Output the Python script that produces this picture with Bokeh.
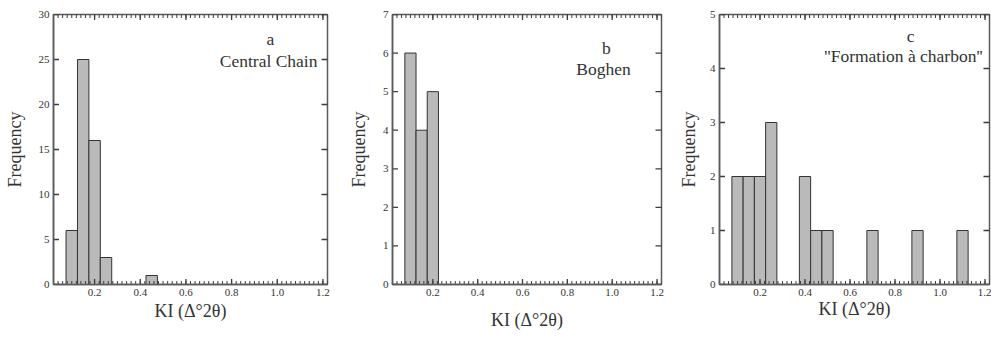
from bokeh.plotting import figure
from bokeh.layouts import row
from bokeh.models import Range1d, FixedTicker, LinearAxis, Label
from bokeh.embed import file_html
from bokeh.resources import INLINE
import numpy as np

# ---- data ----
bin_width = 0.05
a_centers = [0.10, 0.15, 0.20, 0.25, 0.45]
a_counts = [6, 25, 16, 3, 1]
b_centers = [0.10, 0.15, 0.20]
b_counts = [6, 4, 5]
c_centers = [0.10, 0.15, 0.20, 0.25, 0.40, 0.45, 0.50, 0.70, 0.90, 1.10]
c_counts = [2, 2, 2, 3, 2, 1, 1, 1, 1, 1]

x_ticks = [0.2, 0.4, 0.6, 0.8, 1.0, 1.2]
x_tick_labels = ["0.2", "0.4", "0.6", "0.8", "1.0", "1.2"]
a_yticks = [0, 5, 10, 15, 20, 25, 30]
b_yticks = [0, 1, 2, 3, 4, 5, 6, 7]
c_yticks = [0, 1, 2, 3, 4, 5]

panel_letters = ["a", "b", "c"]
panel_names = ["Central Chain", "Boghen", "''Formation à charbon''"]
x_label = "KI (Δ°2θ)"
y_label = "Frequency"

SERIF = "Liberation Serif"
TXT = "#333333"
AX = "#5a5a5a"
TICK = "#3c3c3c"
X0, X1 = 0.02, 1.22
minor = [round(v, 3) for v in np.arange(0.02, 1.2201, 0.02)]


def base_axis(ax):
    ax.axis_line_color = AX
    ax.axis_line_width = 1.5
    ax.major_tick_in = 0
    ax.major_tick_out = 0
    ax.minor_tick_in = 0
    ax.minor_tick_out = 0
    ax.major_tick_line_color = None
    ax.minor_tick_line_color = None
    ax.major_label_text_font = SERIF
    ax.major_label_text_color = TXT
    ax.major_label_text_font_size = "11px"
    ax.major_label_standoff = 4
    ax.axis_label_text_font = SERIF
    ax.axis_label_text_font_size = "18px"
    ax.axis_label_text_font_style = "normal"
    ax.axis_label_text_color = TXT


def inward_ticks(p, ymax, yticks):
    # tick marks drawn at the frame edges (straddling, half visible inside)
    vert = np.pi / 2
    for ypos in (0, ymax):
        p.scatter(x=x_ticks, y=[ypos] * len(x_ticks), marker="dash", angle=vert,
                  size=11, line_color=TICK, line_width=1.3)
        p.scatter(x=minor, y=[ypos] * len(minor), marker="dash", angle=vert,
                  size=7, line_color=TICK, line_width=1)
    p.scatter(x=[X0] * len(yticks), y=yticks, marker="dash",
              size=11, line_color=TICK, line_width=1.3)
    p.scatter(x=[X1] * len(yticks), y=yticks, marker="dash",
              size=12, line_color=TICK, line_width=1.3)


def make_panel(centers, counts, ymax, yticks, letter, name,
               width, bl, br, bt, fh,
               lx, ly, nx, ny, ylab_standoff, xlab_standoff):
    height = 338
    p = figure(width=width, height=height, output_backend="svg",
               toolbar_location=None,
               x_range=Range1d(X0, X1), y_range=Range1d(0, ymax),
               min_border_left=bl, min_border_right=br,
               min_border_top=bt, min_border_bottom=height - bt - fh,
               x_axis_label=x_label, y_axis_label=y_label)
    p.grid.visible = False
    p.outline_line_color = AX
    p.outline_line_width = 1.5
    p.background_fill_color = None
    p.border_fill_color = "white"

    p.vbar(x=centers, top=counts, bottom=0, width=bin_width,
           fill_color="#bababa", line_color="#333333", line_width=1)
    inward_ticks(p, ymax, yticks)

    xa = p.xaxis[0]
    base_axis(xa)
    xa.ticker = FixedTicker(ticks=x_ticks, minor_ticks=minor)
    xa.major_label_overrides = {t: l for t, l in zip(x_ticks, x_tick_labels)}
    xa.axis_label_standoff = xlab_standoff

    ya = p.yaxis[0]
    base_axis(ya)
    ya.ticker = FixedTicker(ticks=yticks, minor_ticks=[])
    ya.axis_label_standoff = ylab_standoff

    p.add_layout(Label(x=lx, y=ly, text=letter, text_align="center",
                       text_baseline="middle", text_font=SERIF,
                       text_font_size="17.5px", text_color=TXT))
    p.add_layout(Label(x=nx, y=ny, text=name, text_align="center",
                       text_baseline="middle", text_font=SERIF,
                       text_font_size="17.5px", text_color=TXT))
    return p


pa = make_panel(a_centers, a_counts, 30, a_yticks, panel_letters[0], panel_names[0],
                width=345, bl=53, br=18, bt=14, fh=273,
                lx=0.970, ly=27.25, nx=0.962, ny=24.8,
                ylab_standoff=11, xlab_standoff=2)
pb = make_panel(b_centers, b_counts, 7, b_yticks, panel_letters[1], panel_names[1],
                width=330, bl=43, br=14, bt=13, fh=273,
                lx=0.974, ly=6.13, nx=0.961, ny=5.59,
                ylab_standoff=11, xlab_standoff=11)
pc = make_panel(c_centers, c_counts, 5, c_yticks, panel_letters[2], panel_names[2],
                width=316, bl=44, br=2, bt=12, fh=272,
                lx=0.869, ly=4.61, nx=0.838, ny=4.23,
                ylab_standoff=8, xlab_standoff=0)

layout = row(pa, pb, pc)
open("out.html", "w").write(file_html(layout, INLINE))
